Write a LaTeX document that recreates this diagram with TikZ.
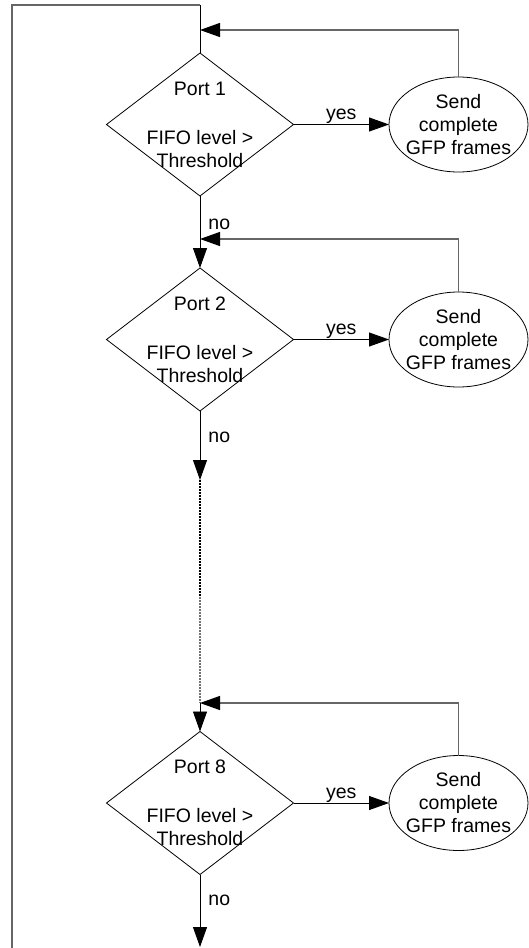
\documentclass[tikz,border=0pt]{standalone}
\usepackage{fontspec}
\setmainfont{Liberation Sans}
\usetikzlibrary{shapes.geometric,arrows.meta,calc}
\begin{document}
\begin{tikzpicture}[x=1pt,y=-1pt,
  font=\fontsize{19.5}{23}\selectfont,
  mainline/.style={draw=black,line width=0.9pt},
  feedback/.style={draw=black!60,line width=1.3pt},
  skipline/.style={line width=1.1pt,dash pattern=on 1.5pt off 1.5pt},
  arrowed/.style={-{Triangle[length=20pt,width=14pt,color=black,fill=black]}},
  decision/.style={diamond,draw,line width=0.8pt,minimum width=187pt,
    minimum height=143pt,inner sep=0pt,outer sep=0pt},
  action/.style={ellipse,draw,line width=0.8pt,minimum width=139pt,
    minimum height=95pt,inner sep=0pt,outer sep=0pt},
  boxtext/.style={align=center,inner sep=0pt},
  yeslabel/.style={anchor=base,yshift=5pt,inner sep=0pt},
  nolabel/.style={anchor=west,xshift=8pt,inner sep=0pt}
]
\useasboundingbox (0,0) rectangle (529,948);

% decisions and actions for ports 1, 2 and 8
\node[decision] (d1) at (200,124.5) {};
\node[boxtext] at (d1) {Port 1\\[26pt]FIFO level >\\Threshold};
\node[action] (e1) at (458.5,124.5) {};
\node[boxtext] at (e1) {Send\\complete\\GFP frames};

\node[decision] (d2) at (200,339.5) {};
\node[boxtext] at (d2) {Port 2\\[26pt]FIFO level >\\Threshold};
\node[action] (e2) at (458.5,339.5) {};
\node[boxtext] at (e2) {Send\\complete\\GFP frames};

\node[decision] (d8) at (200,803) {};
\node[boxtext] at (d8) {Port 8\\[26pt]FIFO level >\\Threshold};
\node[action] (e8) at (458.5,803) {};
\node[boxtext] at (e8) {Send\\complete\\GFP frames};

% junctions and loop corners
\coordinate (bl) at (12,948);
\coordinate (tl) at (12,5);
\coordinate (tr) at (200,5);
\coordinate (j1) at (200,30);
\coordinate (j2) at (200,239);
\coordinate (j8) at (200,703);
\coordinate (c2) at (200,480);
\coordinate (m2) at (200,597);
\coordinate (end) at (200,947);

% outer loop back to port 1
\draw[feedback] (bl) -- (tl) -- (tr);
\draw[mainline] (tr) -- (d1.north);

% port 1
\draw[mainline,arrowed] (d1.east) -- node[yeslabel]{yes} (e1.west);
\draw[feedback,arrowed] (e1.north) |- (j1);
\draw[mainline,arrowed] (d1.south) -- node[nolabel,pos=0.4]{no} (d2.north);

% port 2
\draw[mainline,arrowed] (d2.east) -- node[yeslabel]{yes} (e2.west);
\draw[feedback,arrowed] (e2.north) |- (j2);
\draw[mainline,arrowed] (d2.south) -- node[nolabel,pos=0.38]{no} (c2);

% ports 3 to 7 skipped
\draw[skipline,black] (c2) -- (m2);
\draw[skipline,black!55] (m2) -- (j8);

% port 8
\draw[mainline,arrowed] (j8) -- (d8.north);
\draw[mainline,arrowed] (d8.east) -- node[yeslabel]{yes} (e8.west);
\draw[feedback,arrowed] (e8.north) |- (j8);
\draw[mainline,arrowed] (d8.south) -- node[nolabel,pos=0.36]{no} (end);
\end{tikzpicture}
\end{document}
